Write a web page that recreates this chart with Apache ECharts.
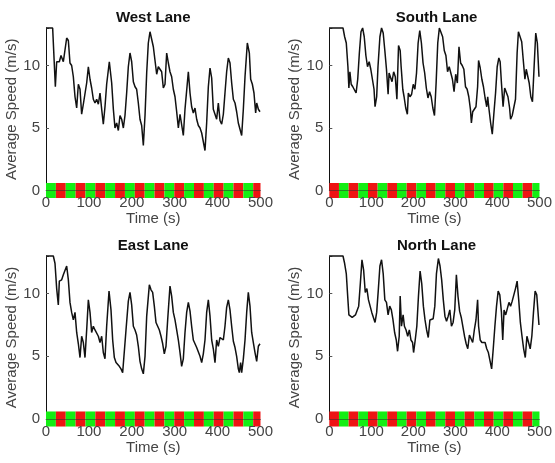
<!DOCTYPE html>
<html>
<head>
<meta charset="utf-8">
<script src="https://cdn.jsdelivr.net/npm/echarts@6/dist/echarts.min.js"></script>
<style>
  html, body { margin: 0; padding: 0; background: #fff; }
  #chart { width: 555px; height: 463px; }
</style>
</head>
<body>
<div id="chart"></div>
<script>
// Average lane speed (m/s) over time (s), one panel per approach
const laneNames = ['West Lane', 'South Lane', 'East Lane', 'North Lane'];

const westSpeed = [
  [0,13],[15.5,13],[21.8,8.3],[24.9,10.3],[31.1,10.3],[35,10.8],[40.4,10.3],[48.2,12.2],[52.1,12.0],[55.9,10.2],
  [59.8,10.0],[63.7,9.1],[67.6,7.5],[71.5,6.6],[75.4,8.5],[79.3,8.1],[83.1,6.1],[87,6.9],[90.9,6.9],[94.8,8.6],
  [98.7,9.9],[102.6,8.9],[106.4,8.2],[110.3,7.3],[114.2,7.0],[118.1,7.3],[122,6.9],[125.9,7.8],[129.8,6.5],[133.6,5.3],
  [137.5,6.7],[141.4,8.5],[147.6,10.3],[153.1,8.6],[157,6.5],[160.8,5.0],[164.7,5.4],[168.6,4.8],[172.5,6.0],[176.4,5.7],
  [180.3,5.0],[184.1,6.0],[188,7.8],[191.9,9.9],[195.8,11.0],[199.7,10.3],[203.6,8.7],[207.5,8.3],[211.3,8.1],[215.2,7.0],
  [219.1,5.7],[223,5.2],[226.9,3.6],[230.8,6.0],[234.7,9.4],[238.5,11.8],[242.4,12.7],[246.3,12.6],[250.2,11.5],[254.1,10.4],
  [258,9.3],[261.8,9.9],[265.7,10.0],[269.6,9.5],[273.5,8.2],[277.4,8.5],[281.3,11.0],[285.2,10.2],[289,9.5],[292.9,9.1],
  [296.8,8.1],[300.7,7.5],[304.6,6.3],[308.5,5.0],[312.4,6.1],[316.2,6.0],[320.1,4.4],[324,6.5],[331.8,9.5],[335.7,7.8],
  [339.5,6.7],[343.4,6.2],[347.3,6.6],[351.2,5.7],[355.1,5.2],[359,5.0],[362.9,4.6],[366.7,4.7],[370.6,3.2],[374.5,5.4],
  [378.4,8.3],[382.3,9.8],[386.2,9.0],[390,6.5],[393.9,6.1],[397.8,5.7],[401.7,7.0],[405.6,5.6],[409.5,5.3],[413.4,6.1],
  [417.2,7.8],[421.1,9.5],[425,10.6],[428.9,10.2],[432.8,8.6],[436.7,7.3],[440.6,7.0],[444.4,6.3],[448.3,5.4],[452.2,4.9],
  [456.1,4.4],[460,6.5],[463.9,9.1],[469.3,11.8],[474,11.0],[477.1,8.9],[481,8.5],[484.8,7.8],[488.7,6.2],[491.1,7.0],
  [495,6.5],[498.8,6.3]
];

const southSpeed = [
  [0,13],[32.6,13],[36.5,12.3],[40.4,11.8],[44.3,9.9],[46.6,8.2],[49,9.5],[52.1,8.5],[55.9,8.3],[59.8,8.2],
  [63.7,7.8],[67.6,8.9],[71.5,11.0],[75.4,12.7],[79.3,13.0],[83.1,12.3],[87,10.8],[90.9,9.9],[94.8,10.3],[98.7,9.7],
  [102.6,9.6],[106.4,8.1],[108.8,6.7],[112.7,7.5],[115.8,9.9],[120.4,12.3],[124.3,13.0],[128.2,12.6],[132.1,11.2],[136,9.7],
  [139.9,7.7],[142.2,9.4],[145.3,9.3],[149.2,8.7],[153.1,9.5],[157,9.1],[160.8,7.3],[164.7,11.6],[168.6,11.2],[170.9,9.9],
  [174.8,8.1],[177.9,7.5],[181.8,6.6],[185.7,6.1],[188,7.8],[191.9,7.5],[195.8,7.7],[199.7,8.5],[203.6,8.1],[207.5,9.4],
  [211.3,11.8],[215.2,12.8],[219.1,11.8],[223,10.2],[226.9,9.4],[230.8,8.2],[234.7,7.4],[238.5,7.9],[242.4,7.5],[246.3,6.6],
  [250.2,6.0],[254.1,8.6],[258,11.8],[261.8,13.0],[265.7,13.0],[269.6,12.3],[273.5,11.2],[277.4,10.8],[281.3,9.5],[285.2,9.9],
  [289,9.8],[292.9,8.9],[296.8,7.9],[300.7,9.3],[304.6,8.6],[308.5,11.5],[312.4,10.2],[316.2,10.0],[320.1,9.7],[324,8.3],
  [327.9,8.1],[331.8,7.5],[335.7,6.5],[338,5.4],[341.1,6.3],[345,6.5],[348.9,6.7],[352.8,8.3],[355.1,10.4],[359,9.8],
  [362.9,8.9],[366.7,8.3],[370.6,7.4],[374.5,6.7],[376.8,7.5],[379.9,6.5],[383.8,5.4],[387.7,4.5],[391.6,6.2],[395.5,7.8],
  [399.4,9.9],[403.3,10.6],[406.4,10.3],[409.5,8.6],[413.4,6.7],[417.2,8.2],[421.1,8.3],[425,7.5],[428.9,6.6],[431.2,5.7],
  [435.1,6.0],[439,6.0],[442.9,7.3],[446.8,11.0],[449.9,12.7],[453.8,12.3],[457.7,11.9],[461.5,10.4],[465.4,8.9],[468.5,9.7],
  [471.6,9.7],[475.5,8.6],[479.4,7.5],[483.3,7.1],[487.2,9.9],[491.1,12.6],[494.9,11.8],[498.8,9.1]
];

const eastSpeed = [
  [0,13],[17.1,13],[21,12.4],[24.9,10.4],[28.7,9.1],[31.1,11.0],[36.5,11.1],[40.4,11.5],[44.3,11.5],[48.2,12.2],
  [52.1,11.1],[55.9,9.3],[59.8,8.5],[63.7,7.9],[67.6,8.5],[71.5,6.9],[75.4,6.0],[79.3,4.9],[83.1,6.6],[87,6.1],
  [90.9,4.9],[94.8,7.1],[98.7,9.5],[102.6,8.5],[106.4,6.9],[110.3,7.4],[114.2,7.1],[118.1,7.0],[122,6.6],[125.9,6.1],
  [129.8,6.6],[133.6,5.3],[137.5,4.8],[141.4,7.4],[146.9,10.2],[151.5,8.7],[155.4,6.3],[159.3,4.9],[163.2,4.5],[167.1,4.6],
  [170.9,4.2],[174.8,4.0],[178.7,3.7],[182.6,3.8],[186.5,7.1],[191.9,9.4],[195.8,10.1],[199.7,9.1],[203.6,7.4],[207.5,7.1],
  [211.3,6.7],[215.2,5.8],[219.1,4.6],[223,4.0],[226.9,3.6],[230.8,5.0],[234.7,8.2],[240.9,10.7],[244.8,10.3],[248.6,10.1],
  [252.5,9.0],[256.4,7.7],[260.3,7.6],[264.2,7.1],[268.1,6.6],[272,6.0],[275.8,5.2],[279.7,5.8],[283.6,7.9],[289,10.6],
  [292.9,9.8],[296.8,8.5],[300.7,7.9],[304.6,7.1],[308.5,6.3],[312.4,5.3],[316.2,4.2],[320.1,4.8],[324,6.9],[327.9,8.5],
  [331.8,9.3],[335.7,8.6],[339.5,7.4],[343.4,6.3],[347.3,6.0],[351.2,5.7],[355.1,5.6],[359,5.0],[362.9,4.5],[366.7,5.2],
  [370.6,6.3],[374.5,8.5],[378.4,9.5],[382.3,8.2],[386.2,6.3],[390,5.6],[393.9,4.5],[397.8,6.3],[401.7,5.8],[405.6,6.5],
  [409.5,6.6],[413.4,6.3],[417.2,7.4],[421.1,8.9],[425,9.5],[428.9,8.7],[432.8,7.4],[436.7,6.2],[440.6,5.7],[444.4,5.0],
  [448.3,4.0],[450.6,3.7],[453.7,4.5],[456.1,3.7],[460,4.8],[463.9,6.3],[467.8,8.5],[471.6,10.1],[475.5,9.0],[479.4,6.9],
  [483.3,6.1],[487.2,5.3],[491.1,4.6],[495,5.8],[498.8,6.0]
];

const northSpeed = [
  [0,13],[32.6,13],[36.5,12.4],[40.4,11.6],[44.3,9.5],[46.6,8.3],[50.5,8.2],[54.4,8.1],[58.3,8.0],[62.2,8.3],
  [66,8.3],[69.9,9.0],[73.8,10.8],[77.7,12.7],[81.6,11.9],[85.5,10.1],[89.4,10.4],[93.2,9.5],[97.1,9.0],[101,8.5],
  [104.9,8.1],[108.8,7.7],[112.7,8.5],[116.6,10.3],[120.4,12.2],[124.3,12.7],[128.2,11.6],[132.1,9.5],[136,9.3],[139.9,8.3],
  [143.7,9.0],[147.6,8.7],[151.5,7.9],[155.4,6.9],[159.3,6.3],[162.4,5.4],[166.3,6.6],[168.6,9.8],[171.7,7.4],[175.6,8.3],
  [178.7,7.4],[182.6,7.1],[186.5,6.6],[190.4,7.1],[194.3,6.3],[198.1,6.1],[200.5,5.3],[204.4,6.3],[208.2,7.4],[212.1,9.8],
  [216,11.8],[219.9,10.8],[223.8,9.0],[227.7,7.9],[231.5,7.1],[235.4,6.5],[239.3,7.9],[243.2,8.0],[247.1,8.0],[251,9.0],
  [254.9,11.6],[259.5,12.8],[263.4,12.2],[267.3,11.1],[271.2,9.5],[275.1,8.2],[278.9,7.8],[282.8,8.2],[286.7,8.7],[290.6,7.4],
  [294.5,7.7],[298.4,8.7],[302.3,11.5],[306.1,9.8],[310,8.6],[313.9,8.1],[317.8,8.0],[321.7,6.6],[325.6,6.0],[329.4,5.6],
  [333.3,6.7],[337.2,6.6],[341.1,6.1],[345,7.1],[348.9,7.9],[352.8,9.5],[355.1,7.4],[359,6.3],[362.9,6.1],[366.7,6.0],
  [370.6,6.1],[374.5,5.6],[378.4,5.3],[382.3,5.2],[386.2,4.0],[390,5.6],[393.9,7.4],[397.8,9.0],[401.7,10.2],[405.6,9.9],
  [409.5,8.5],[412.6,6.3],[415.7,8.7],[419.6,8.3],[423.5,8.2],[427.4,9.3],[431.2,9.0],[435.1,9.4],[439,9.3],[442.9,10.4],
  [446.8,11.0],[450.6,9.5],[454.5,7.7],[458.4,6.6],[462.3,5.6],[466.2,4.9],[470.1,6.6],[474,6.1],[477.9,5.6],[481.8,6.6],
  [485.7,8.5],[489.6,10.2],[493.5,9.9],[498.8,7.5]
];

// Signal phase switch times (s) shared by all approaches
const signalEdges = [0, 23, 46, 69, 92, 115, 138, 161, 184, 207, 230, 253, 276, 299, 322, 345, 368, 391, 414, 437, 460, 483, 500];
// Phase shown first on each approach (0 = green, 1 = red)
const firstPhase = [0, 1, 0, 1];
const phaseColors = ['#14ee14', '#ee1414'];

const xTicks = { min: 0, max: 500, interval: 100 };
const yTicks = { min: 0, max: 13, interval: 5 };

const speedSets = [westSpeed, southSpeed, eastSpeed, northSpeed];

const gridBoxes = [
  { left: 46,    top: 28,  width: 214.5, height: 162.5 },
  { left: 329.3, top: 28,  width: 214.5, height: 162.5 },
  { left: 46,    top: 256, width: 214.5, height: 163 },
  { left: 329.3, top: 256, width: 214.5, height: 163 }
];

const FONT = 'Liberation Sans, Arial, sans-serif';
const TXT = '#444';

const option = {
  animation: false,
  backgroundColor: '#fff',
  title: laneNames.map((name, i) => ({
    text: name,
    left: gridBoxes[i].left + gridBoxes[i].width / 2,
    top: gridBoxes[i].top - 18,
    textAlign: 'center',
    padding: 0,
    textStyle: { fontFamily: FONT, fontSize: 15, fontWeight: 'bold', color: '#111' }
  })),
  grid: gridBoxes.map(g => Object.assign({ containLabel: false }, g)),
  xAxis: gridBoxes.map((g, i) => ({
    type: 'value',
    gridIndex: i,
    min: xTicks.min, max: xTicks.max, interval: xTicks.interval,
    name: 'Time (s)',
    nameLocation: 'middle',
    nameGap: 17,
    nameTextStyle: { fontFamily: FONT, fontSize: 15, color: TXT },
    z: 10,
    axisLine: { show: true, lineStyle: { color: '#333', width: 0.8, opacity: 0.7 } },
    axisTick: { show: false },
    splitLine: { show: false },
    axisLabel: { fontFamily: FONT, fontSize: 15, color: TXT, margin: 5 }
  })),
  yAxis: gridBoxes.map((g, i) => ({
    type: 'value',
    gridIndex: i,
    min: yTicks.min, max: yTicks.max, interval: yTicks.interval,
    name: 'Average Speed (m/s)',
    nameLocation: 'middle',
    nameGap: 25,
    nameTextStyle: { fontFamily: FONT, fontSize: 15, color: TXT },
    axisLine: { show: true, lineStyle: { color: '#111', width: 1 } },
    axisTick: { show: true, inside: true, length: 3, lineStyle: { color: '#555' } },
    splitLine: { show: false },
    axisLabel: {
      fontFamily: FONT, fontSize: 15, color: TXT, margin: 6,
      formatter: v => (v % 5 === 0 ? String(v) : '')
    }
  })),
  series: []
};

speedSets.forEach((set, i) => {
  // traffic-signal strip drawn along y = 0
  const segs = [];
  for (let k = 0; k < signalEdges.length - 1; k++) {
    segs.push([signalEdges[k], signalEdges[k + 1], (firstPhase[i] + k) % 2]);
  }
  option.series.push({
    type: 'custom',
    xAxisIndex: i, yAxisIndex: i,
    clip: false,
    z: 3,
    data: segs,
    renderItem: (params, api) => {
      const p0 = api.coord([api.value(0), 0.6]);
      const p1 = api.coord([api.value(1), -0.6]);
      return {
        type: 'rect',
        shape: { x: p0[0], y: p0[1], width: p1[0] - p0[0], height: p1[1] - p0[1] },
        style: { fill: phaseColors[api.value(2)] }
      };
    }
  });
  option.series.push({
    type: 'line',
    xAxisIndex: i, yAxisIndex: i,
    data: set,
    clip: false,
    showSymbol: false,
    z: 4,
    lineStyle: { color: '#111', width: 1.5 }
  });
});

const chart = echarts.init(document.getElementById('chart'), null, { renderer: 'canvas' });
chart.setOption(option);
</script>
</body>
</html>
